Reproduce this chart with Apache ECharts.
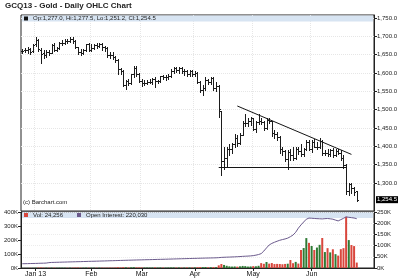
<!DOCTYPE html>
<html><head><meta charset="utf-8">
<script src="https://cdn.jsdelivr.net/npm/echarts@6/dist/echarts.min.js"></script>
<style>html,body{margin:0;padding:0;background:#fff}#c{width:400px;height:279px}</style>
</head><body><div id="c"></div>
<script>
// ---------- DATA ----------
const chartTitle = 'GCQ13 - Gold - Daily OHLC Chart';
const creditText = '(c) Barchart.com';

const dates = [
 '2012-12-24','2012-12-26','2012-12-27','2012-12-28','2012-12-31',
 '2013-01-02','2013-01-03','2013-01-04','2013-01-07','2013-01-08','2013-01-09','2013-01-10','2013-01-11','2013-01-14','2013-01-15','2013-01-16','2013-01-17','2013-01-18','2013-01-22','2013-01-23','2013-01-24','2013-01-25','2013-01-28','2013-01-29','2013-01-30','2013-01-31',
 '2013-02-01','2013-02-04','2013-02-05','2013-02-06','2013-02-07','2013-02-08','2013-02-11','2013-02-12','2013-02-13','2013-02-14','2013-02-15','2013-02-19','2013-02-20','2013-02-21','2013-02-22','2013-02-25','2013-02-26','2013-02-27','2013-02-28',
 '2013-03-01','2013-03-04','2013-03-05','2013-03-06','2013-03-07','2013-03-08','2013-03-11','2013-03-12','2013-03-13','2013-03-14','2013-03-15','2013-03-18','2013-03-19','2013-03-20','2013-03-21','2013-03-22','2013-03-25','2013-03-26','2013-03-27','2013-03-28',
 '2013-04-01','2013-04-02','2013-04-03','2013-04-04','2013-04-05','2013-04-08','2013-04-09','2013-04-10','2013-04-11','2013-04-12','2013-04-15','2013-04-16','2013-04-17','2013-04-18','2013-04-19','2013-04-22','2013-04-23','2013-04-24','2013-04-25','2013-04-26','2013-04-29','2013-04-30',
 '2013-05-01','2013-05-02','2013-05-03','2013-05-06','2013-05-07','2013-05-08','2013-05-09','2013-05-10','2013-05-13','2013-05-14','2013-05-15','2013-05-16','2013-05-17','2013-05-20','2013-05-21','2013-05-22','2013-05-23','2013-05-24','2013-05-28','2013-05-29','2013-05-30','2013-05-31',
 '2013-06-03','2013-06-04','2013-06-05','2013-06-06','2013-06-07','2013-06-10','2013-06-11','2013-06-12','2013-06-13','2013-06-14','2013-06-17','2013-06-18','2013-06-19','2013-06-20','2013-06-21','2013-06-24','2013-06-25','2013-06-26'
];

const opens = [
 1660,1662,1663,1665,1660,
 1678,1690,1664,1654,1648,1658,1655,1676,1664,1669,1682,1683,1688,1687,1693,1686,1670,1658,1655,1662,1678,
 1664,1669,1676,1675,1679,1672,1668,1650,1649,1645,1636,1610,1605,1566,1577,1573,1596,1615,1597,
 1579,1573,1574,1575,1576,1583,1577,1578,1591,1588,1589,1592,1605,1614,1608,1614,1606,1606,1597,1606,
 1597,1601,1576,1554,1559,1581,1575,1587,1559,1565,1496,1361,1368,1392,1393,1406,1424,1408,1432,1463,1463,1468,
 1476,1446,1467,1470,1466,1449,1473,1468,1436,1434,1425,1392,1386,1365,1385,1377,1369,1392,1387,1379,1392,1412,
 1393,1411,1398,1399,1415,1383,1383,1379,1391,1376,1387,1383,1367,1348,1279,1296,1286,1277
];
const highs = [
 1665,1667,1671,1668,1680,
 1697,1694,1667,1664,1663,1664,1680,1683,1672,1684,1689,1692,1693,1697,1698,1690,1672,1665,1666,1680,1683,
 1680,1679,1681,1683,1681,1674,1670,1657,1656,1647,1639,1613,1607,1580,1584,1598,1619,1618,1601,
 1583,1580,1582,1585,1586,1589,1581,1593,1595,1594,1597,1610,1617,1616,1617,1616,1612,1608,1607,1608,
 1605,1603,1578,1567,1590,1585,1590,1589,1575,1566,1497,1397,1397,1406,1410,1434,1432,1437,1468,1487,1477,1480,
 1477,1470,1488,1477,1468,1477,1478,1470,1444,1438,1428,1397,1390,1390,1392,1397,1398,1397,1406,1395,1418,1417,
 1416,1419,1411,1424,1417,1390,1394,1394,1395,1393,1394,1389,1375,1351,1301,1300,1288,1277.5
];
const lows = [
 1655,1656,1654,1653,1658,
 1675,1661,1627,1642,1644,1650,1654,1661,1660,1665,1676,1678,1682,1684,1682,1667,1653,1650,1652,1660,1660,
 1660,1665,1668,1670,1664,1660,1645,1641,1639,1630,1598,1597,1565,1555,1566,1570,1589,1592,1575,
 1565,1567,1570,1572,1570,1563,1572,1575,1584,1582,1585,1590,1600,1603,1601,1601,1595,1591,1593,1591,
 1593,1574,1547,1540,1554,1569,1570,1553,1552,1480,1321,1337,1345,1376,1383,1397,1400,1405,1430,1456,1455,1458,
 1445,1440,1460,1460,1444,1446,1463,1428,1422,1417,1382,1375,1359,1338,1362,1364,1365,1380,1374,1374,1389,1391,
 1384,1397,1394,1395,1375,1375,1373,1373,1370,1374,1380,1363,1342,1270,1268,1274,1266,1251.2
];
const closes = [
 1661,1663,1665,1658,1677,
 1689,1666,1652,1648,1658,1655,1677,1663,1669,1682,1683,1688,1687,1693,1686,1670,1657,1654,1662,1678,1664,
 1669,1677,1675,1679,1672,1668,1650,1649,1645,1636,1610,1605,1566,1577,1573,1596,1615,1597,1579,
 1573,1574,1575,1576,1583,1577,1578,1591,1588,1589,1592,1605,1614,1608,1614,1606,1606,1597,1606,1597,
 1601,1576,1554,1559,1581,1575,1587,1559,1565,1502,1361,1368,1392,1393,1406,1424,1408,1432,1463,1463,1468,1476,
 1446,1467,1470,1466,1449,1473,1468,1436,1434,1425,1392,1386,1365,1385,1377,1369,1392,1387,1379,1392,1412,1393,
 1411,1398,1399,1415,1383,1383,1379,1391,1376,1387,1383,1367,1348,1277,1296,1286,1276,1254.5
];
const volumes = [
 420,380,510,640,590,
 1210,1850,2320,1460,1380,1290,1720,1530,1180,1640,1390,1270,1120,1350,1480,1920,2110,1340,1260,1580,1430,
 1390,1220,1310,1450,1620,1180,1530,1670,1420,1880,3420,2150,3860,3210,2480,2960,3740,2830,2410,
 2250,1980,2140,1870,2060,2730,1810,2380,2020,1760,2290,2510,2640,2180,2350,2070,1940,2620,2210,2480,
 2760,3520,4180,3930,4560,3240,3610,4380,3870,11840,17920,13650,9870,7420,6350,6980,6120,7540,9210,8360,6430,6970,
 8240,7650,9820,21800,18700,26900,19400,22100,17600,18300,17900,16800,18100,19200,35600,21400,27300,19800,80400,89100,133600,112300,
 98200,80500,91300,103400,133900,71200,88700,69800,83600,61900,55400,84100,88600,228300,124700,102600,97800,24256
];
const openInterest = [
 19100,19300,19600,19900,20200,
 20400,20800,21300,21500,22100,23900,24800,25100,25500,25800,26200,26500,26900,27200,27500,27900,28200,28400,28900,29200,29600,
 29900,30200,30500,30900,31200,31500,31900,32300,32600,33000,33400,33700,34100,34400,34800,35100,35500,35800,36100,
 36400,36800,37100,37300,37700,38000,38300,38600,38900,39200,39600,39900,40300,40600,41000,41300,41600,42000,42300,42700,
 43000,43300,43700,44000,44300,44600,44900,45200,45500,46200,47300,47900,48400,48800,49300,49800,50400,51100,51900,52600,53200,54000,
 55200,57400,60100,64300,75800,89600,102700,109800,114900,119600,123800,126900,129700,133500,139800,147200,159600,177900,192400,205300,217800,222900,
 222100,221200,220400,219800,219100,220300,221000,219600,217900,213800,210200,215900,221700,228400,226300,224800,223100,220030
];

const priceTicks = [1300,1350,1400,1450,1500,1550,1600,1650,1700,1750];
const volTicksLeft = [0,100000,200000,300000,400000];
const volTicksRight = [0,50000,100000,150000,200000,250000];
const monthTickDates = ['2013-01-02','2013-02-01','2013-03-01','2013-04-01','2013-05-01','2013-06-03'];
const monthTickLabels = ['Jan 13','Feb','Mar','Apr','May','Jun'];

// drawn study lines (in data units)
const supportFrom = '2013-04-12', supportTo = '2013-06-20', supportLevel = 1343;
const trendFrom = ['2013-04-23', 1510], trendTo = ['2013-06-24', 1378];

// ---------- BUILD ----------
const n = dates.length - 1;
const pads = [];
for (let k = 1; k <= 6; k++) pads.push(' '.repeat(k));
const cats = dates.concat(pads);

function fmt(v, d) {
  const s = v.toFixed(d);
  const parts = s.split('.');
  parts[0] = parts[0].replace(/\B(?=(\d{3})+(?!\d))/g, ',');
  return parts.join('.');
}
const isMonthStart = (idx, val) => monthTickDates.indexOf(val) >= 0;
const monthLabel = val => { const j = monthTickDates.indexOf(val); return j >= 0 ? monthTickLabels[j] : ''; };

const FONT = 'Liberation Sans, Arial, sans-serif';
const RED = '#d9473d', GREEN = '#2f7a34', OI = '#6b5a8c';

function renderOHLC(params, api) {
  const i = api.value(0);
  const pO = api.coord([i, api.value(1)]);
  const pH = api.coord([i, api.value(2)]);
  const pL = api.coord([i, api.value(3)]);
  const pC = api.coord([i, api.value(4)]);
  const x = Math.round(pO[0]) + 0.5;
  const st = {stroke: '#1c1c1c', lineWidth: 1};
  const yo = Math.round(pO[1]) + 0.5, yc = Math.round(pC[1]) + 0.5;
  return {type: 'group', children: [
    {type: 'line', shape: {x1: x, y1: Math.round(pH[1]), x2: x, y2: Math.round(pL[1]) + 1}, style: st},
    {type: 'line', shape: {x1: x - 1.5, y1: yo, x2: x, y2: yo}, style: st},
    {type: 'line', shape: {x1: x, y1: yc, x2: x + 1.5, y2: yc}, style: st}
  ]};
}

const chart = echarts.init(document.getElementById('c'), null, {renderer: 'canvas'});
chart.setOption({
  animation: false,
  backgroundColor: '#fff',
  textStyle: {fontFamily: FONT},
  title: [
    {text: chartTitle, left: 5, top: 2, padding: 0,
     textStyle: {fontSize: 8, fontWeight: 'bold', color: '#222', fontFamily: FONT}},
    {text: creditText, left: 23, top: 199, padding: 0,
     textStyle: {fontSize: 6, fontWeight: 'normal', color: '#222', fontFamily: FONT}}
  ],
  graphic: [
    {type: 'rect', left: 22, top: 15.5, shape: {width: 351, height: 6}, style: {fill: '#d7e4f2'}, z: 1, silent: true},
    {type: 'rect', left: 22, top: 212.5, shape: {width: 351, height: 5.5}, style: {fill: '#d7e4f2'}, z: 1, silent: true}
  ],
  legend: [
    {data: [{name: 'OHLC', icon: 'rect'}], left: 24, top: 15.5, padding: 0, itemWidth: 4, itemHeight: 4, itemGap: 4,
     textStyle: {fontSize: 6, color: '#222', fontFamily: FONT},
     formatter: () => 'Op:' + fmt(opens[n], 1) + ', Hi:' + fmt(highs[n], 1) + ', Lo:' + fmt(lows[n], 1) + ', Cl:' + fmt(closes[n], 1),
     selectedMode: false},
    {data: [{name: 'Vol', icon: 'rect'}, {name: 'Open Interest', icon: 'rect'}], left: 24, top: 212, padding: 0,
     itemWidth: 4, itemHeight: 4, itemGap: 14,
     textStyle: {fontSize: 6, color: '#222', fontFamily: FONT},
     formatter: name => name === 'Vol' ? 'Vol: ' + fmt(volumes[n], 0) : 'Open Interest: ' + fmt(openInterest[n], 0),
     selectedMode: false}
  ],
  grid: [
    {left: 21, right: 26, top: 15, height: 196, show: true, borderColor: '#222', borderWidth: 1, backgroundColor: 'transparent', outerBoundsMode: 'none', containLabel: false},
    {left: 21, right: 26, top: 212, height: 56, show: true, borderColor: '#222', borderWidth: 1, backgroundColor: 'transparent', outerBoundsMode: 'none', containLabel: false}
  ],
  xAxis: [
    {type: 'category', gridIndex: 0, data: cats, boundaryGap: true,
     axisLine: {show: false}, axisTick: {show: false}, axisLabel: {show: false},
     splitLine: {show: true, interval: isMonthStart, lineStyle: {color: '#e6e6e6', type: 'dotted', width: 1}}},
    {type: 'category', gridIndex: 1, data: cats, boundaryGap: true,
     axisLine: {show: true, lineStyle: {color: '#222'}},
     axisTick: {show: true, interval: isMonthStart, alignWithLabel: true, length: 3, lineStyle: {color: '#222'}},
     axisLabel: {show: true, interval: isMonthStart, formatter: monthLabel, fontSize: 7, color: '#111', margin: 3, fontFamily: FONT},
     splitLine: {show: false}}
  ],
  yAxis: [
    {type: 'value', gridIndex: 0, position: 'right', min: 1223.6, max: 1758.2, scale: true,
     axisLine: {show: true, lineStyle: {color: '#222'}},
     axisTick: {show: true, customValues: priceTicks, length: 3, lineStyle: {color: '#222'}},
     axisLabel: {customValues: priceTicks, formatter: v => fmt(v, 1), fontSize: 6, color: '#222', margin: 3, fontFamily: FONT},
     splitLine: {show: true, lineStyle: {color: '#e6e6e6', type: 'dotted'}}},
    {type: 'value', gridIndex: 1, position: 'left', min: 0, max: 400000, interval: 100000,
     axisLine: {show: true, lineStyle: {color: '#222'}},
     axisTick: {show: true, length: 3, lineStyle: {color: '#222'}},
     axisLabel: {formatter: v => (v / 1000) + 'K', fontSize: 6, color: '#222', margin: 3, fontFamily: FONT},
     splitLine: {show: false}},
    {type: 'value', gridIndex: 1, position: 'right', min: 0, max: 250000, interval: 50000,
     axisLine: {show: true, lineStyle: {color: '#222'}},
     axisTick: {show: true, length: 3, lineStyle: {color: '#222'}},
     axisLabel: {formatter: v => (v / 1000) + 'K', fontSize: 6, color: '#222', margin: 3, fontFamily: FONT},
     splitLine: {show: true, lineStyle: {color: '#ececec', type: 'dotted'}}}
  ],
  series: [
    {name: 'OHLC', type: 'custom', xAxisIndex: 0, yAxisIndex: 0, renderItem: renderOHLC, clip: true,
     itemStyle: {color: '#111'},
     encode: {x: 0, y: [1, 2, 3, 4]},
     data: dates.map((d, i) => [i, opens[i], highs[i], lows[i], closes[i]]), z: 3},
    {name: 'Close', type: 'line', xAxisIndex: 0, yAxisIndex: 0, data: closes, showSymbol: false, silent: true,
     lineStyle: {opacity: 0}, z: 4,
     markLine: {silent: true, symbol: 'none', animation: false,
       lineStyle: {color: '#151515', width: 1, type: 'solid'},
       label: {show: false},
       emphasis: {disabled: true},
       data: [
         [{coord: [supportFrom, supportLevel]}, {coord: [supportTo, supportLevel]}],
         [{coord: trendFrom}, {coord: trendTo}],
         {yAxis: closes[n], lineStyle: {color: 'rgba(0,0,0,0)', width: 0},
          label: {show: true, position: 'end', distance: 2, formatter: fmt(closes[n], 1),
                  backgroundColor: '#000', color: '#fff', fontSize: 6, padding: [1, 1, 0, 1], fontFamily: FONT}}
       ]}},
    {name: 'Vol', type: 'bar', xAxisIndex: 1, yAxisIndex: 2, barWidth: 2, itemStyle: {color: RED},
     data: volumes.map((v, i) => ({value: v, itemStyle: {color: closes[i] >= opens[i] ? GREEN : RED}})), z: 3},
    {name: 'Open Interest', type: 'line', xAxisIndex: 1, yAxisIndex: 2, data: openInterest, showSymbol: false,
     itemStyle: {color: OI}, lineStyle: {color: OI, width: 1}, z: 4}
  ]
});
</script></body></html>
